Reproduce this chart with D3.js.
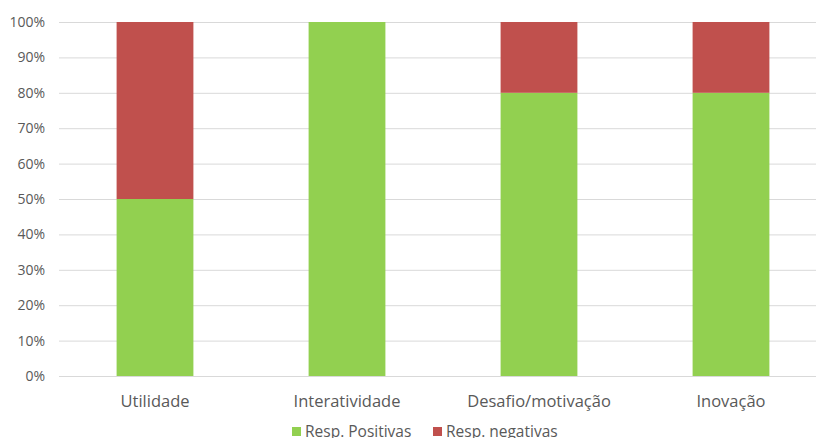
<!DOCTYPE html>
<html>
<head>
<meta charset="utf-8">
<script src="https://cdn.jsdelivr.net/npm/d3@7"></script>
<style>
  body { margin: 0; background: #fff; }
  svg { display: block; font-family: "Open Sans", sans-serif; }
</style>
</head>
<body>
<svg id="chart" width="816" height="438"></svg>
<script>
// chart data
var categories = ["Utilidade", "Interatividade", "Desafio/motivação", "Inovação"];
var positivas = [50, 100, 80, 80];
var negativas = [50, 0, 20, 20];
var seriesNames = ["Resp. Positivas", "Resp. negativas"];
var seriesColors = ["#92d050", "#c0504d"];
var yTicks = [0, 10, 20, 30, 40, 50, 60, 70, 80, 90, 100];

var svg = d3.select("#chart");

var x = d3.scaleBand()
    .domain(categories)
    .range([59, 827])
    .paddingInner(0.6)
    .paddingOuter(0.3);

var y = d3.scaleLinear()
    .domain([0, 100])
    .range([376, 22]);

// gridlines
svg.append("g")
    .selectAll("line")
    .data(yTicks)
    .enter()
    .append("line")
    .attr("x1", 59)
    .attr("x2", 816)
    .attr("y1", function(d) { return y(d) + 0.5; })
    .attr("y2", function(d) { return y(d) + 0.5; })
    .style("stroke", "#d9d9d9")
    .style("stroke-width", 1);

// y tick labels
svg.append("g")
    .selectAll("text")
    .data(yTicks)
    .enter()
    .append("text")
    .attr("x", 45)
    .attr("y", function(d) { return y(d); })
    .attr("dy", "0.35em")
    .attr("text-anchor", "end")
    .style("font-size", "14px")
    .style("fill", "#595959")
    .text(function(d) { return d + "%"; });

// stacked bars
var rows = categories.map(function(c, i) {
  return { cat: c, pos: positivas[i], neg: negativas[i] };
});
var stack = d3.stack().keys(["pos", "neg"]);
var layers = stack(rows);

svg.append("g")
    .selectAll("g")
    .data(layers)
    .enter()
    .append("g")
    .style("fill", function(d, i) { return seriesColors[i]; })
    .selectAll("rect")
    .data(function(d) { return d; })
    .enter()
    .append("rect")
    .attr("x", function(d) { return x(d.data.cat); })
    .attr("width", x.bandwidth())
    .attr("y", function(d) { return y(d[1]); })
    .attr("height", function(d) { return y(d[0]) - y(d[1]); });

// category labels
svg.append("g")
    .selectAll("text")
    .data(categories)
    .enter()
    .append("text")
    .attr("x", function(d) { return x(d) + x.bandwidth() / 2; })
    .attr("y", 407)
    .attr("text-anchor", "middle")
    .style("font-size", "16.5px")
    .style("fill", "#595959")
    .text(function(d) { return d; });

// legend
var legendX = [292, 433];
var legend = svg.append("g");
seriesNames.forEach(function(name, i) {
  legend.append("rect")
      .attr("x", legendX[i])
      .attr("y", 427)
      .attr("width", 9)
      .attr("height", 9)
      .style("fill", seriesColors[i]);
  legend.append("text")
      .attr("x", legendX[i] + 13)
      .attr("y", 437)
      .style("font-size", "15.5px")
      .style("fill", "#595959")
      .text(name);
});
</script>
</body>
</html>
